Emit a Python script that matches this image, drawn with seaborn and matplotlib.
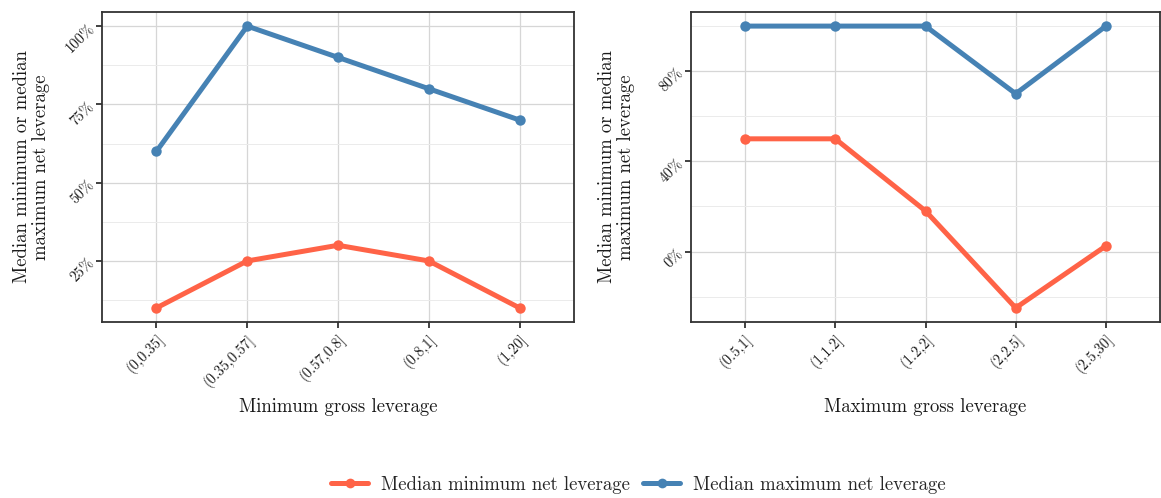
import matplotlib
matplotlib.use("Agg")
import matplotlib.pyplot as plt
from matplotlib.ticker import FixedLocator, FuncFormatter
from matplotlib.lines import Line2D
import seaborn as sns
import pandas as pd

# Binned gross leverage categories
min_gross_bins = ["(0,0.35]", "(0.35,0.57]", "(0.57,0.8]", "(0.8,1]", "(1,20]"]
max_gross_bins = ["(0.5,1]", "(1,1.2]", "(1.2,2]", "(2,2.5]", "(2.5,30]"]

# Median net leverage by bin
min_panel_min_net = [0.10, 0.25, 0.30, 0.25, 0.10]
min_panel_max_net = [0.60, 1.00, 0.90, 0.80, 0.70]
max_panel_min_net = [0.50, 0.50, 0.18, -0.25, 0.025]
max_panel_max_net = [1.00, 1.00, 1.00, 0.70, 1.00]

series_names = ["Median minimum net leverage", "Median maximum net leverage"]
palette = {series_names[0]: "#FF6347", series_names[1]: "#4682B4"}

left_major = [0.25, 0.50, 0.75, 1.00]
left_minor = [0.125, 0.375, 0.625, 0.875]
right_major = [0.0, 0.4, 0.8]
right_minor = [-0.2, 0.2, 0.6, 1.0]

TEXT = 13.5
TICK = 10.5
LW = 3.6


def long_frame(bins, lo, hi):
    return pd.DataFrame({
        "bin": bins + bins,
        "value": lo + hi,
        "series": [series_names[0]] * len(bins) + [series_names[1]] * len(bins),
    })


sns.set_theme(style="white")
plt.rcParams["font.family"] = ["cmr10", "DejaVu Serif"]
plt.rcParams["axes.unicode_minus"] = False
plt.rcParams["mathtext.fontset"] = "cm"

fig = plt.figure(figsize=(11.61, 4.98), dpi=100)
ax1 = fig.add_axes([102 / 1161, 1 - 322 / 498, (574 - 102) / 1161, 310 / 498])
ax2 = fig.add_axes([691 / 1161, 1 - 322 / 498, (1160 - 691) / 1161, 310 / 498])

panels = [
    (ax1, long_frame(min_gross_bins, min_panel_min_net, min_panel_max_net),
     "Minimum gross leverage", left_major, left_minor, -0.110),
    (ax2, long_frame(max_gross_bins, max_panel_min_net, max_panel_max_net),
     "Maximum gross leverage", right_major, right_minor, -0.119),
]

pct = FuncFormatter(lambda v, _: f"{v * 100:.0f}%")

for ax, df, xlabel, major, minor, ylab_x in panels:
    sns.lineplot(data=df, x="bin", y="value", hue="series", palette=palette,
                 marker="o", markersize=7.5, markeredgewidth=0, linewidth=LW,
                 ax=ax, legend=False, zorder=3)
    lo, hi = df["value"].min(), df["value"].max()
    pad = (hi - lo) * 0.05
    ax.set_ylim(lo - pad, hi + pad)
    ax.set_xlim(-0.6, 4.6)

    ax.yaxis.set_major_locator(FixedLocator(major))
    ax.yaxis.set_minor_locator(FixedLocator(minor))
    ax.yaxis.set_major_formatter(pct)
    ax.grid(True, which="major", axis="both", color="#d6d6d6", linewidth=0.9, zorder=0)
    ax.grid(True, which="minor", axis="y", color="#ebebeb", linewidth=0.7, zorder=0)
    ax.set_axisbelow(True)

    for s in ax.spines.values():
        s.set_color("#333333")
        s.set_linewidth(1.3)

    ax.tick_params(axis="both", which="major", direction="out", length=4, width=1.3,
                   color="#333333", labelsize=TICK, labelcolor="#1a1a1a",
                   bottom=True, left=True, pad=3)
    ax.tick_params(axis="y", which="minor", length=0)
    for lab in ax.get_xticklabels():
        lab.set_rotation(45)
        lab.set_ha("right")
        lab.set_va("top")
        lab.set_rotation_mode("anchor")
    for lab in ax.get_yticklabels():
        lab.set_rotation(45)
        lab.set_ha("right")
        lab.set_va("center")
        lab.set_rotation_mode("anchor")

    ax.set_xlabel(xlabel, fontsize=TEXT, color="#1a1a1a")
    ax.xaxis.set_label_coords(0.5, -0.245)
    ax.set_ylabel("Median minimum or median\nmaximum net leverage", fontsize=TEXT,
                  color="#1a1a1a", linespacing=1.1)
    ax.yaxis.set_label_coords(ylab_x, 0.5)

handles = [Line2D([0], [0], color=palette[n], linewidth=LW, marker="o",
                  markersize=7, markeredgewidth=0) for n in series_names]
fig.legend(handles, series_names, loc="center",
           bbox_to_anchor=(638.5 / 1161, 1 - 485 / 498),
           ncol=2, frameon=False, fontsize=TEXT, handlelength=1.97,
           columnspacing=0.7, handletextpad=0.7)

fig.savefig("out.png", dpi=100)
